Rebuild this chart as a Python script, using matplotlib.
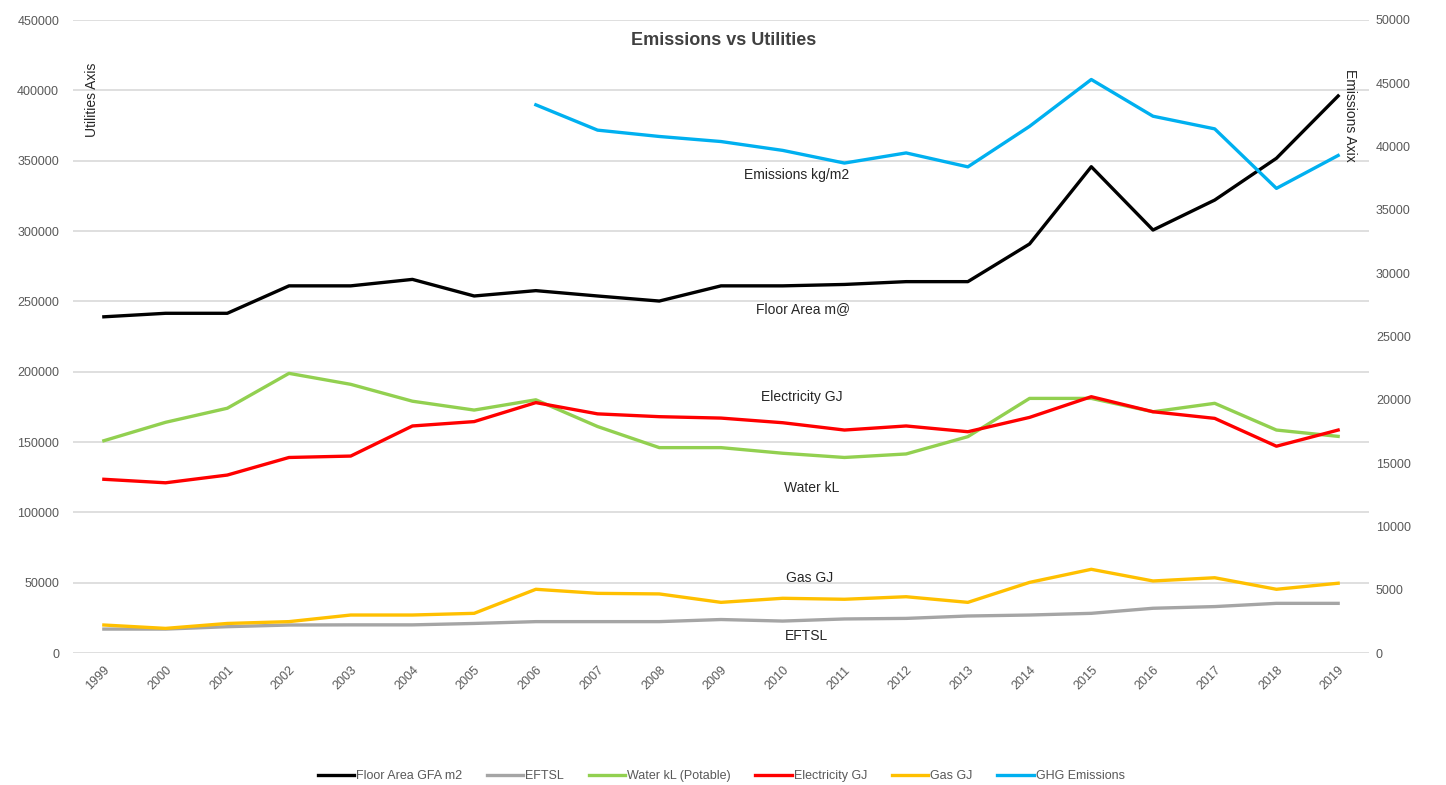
import numpy as np
import matplotlib
matplotlib.use("Agg")
import matplotlib.pyplot as plt

plt.rcParams['font.family'] = ['Liberation Sans', 'DejaVu Sans']

years = [str(y) for y in range(1999, 2020)]

floor_area = [239000, 241500, 241500, 261000, 261000, 265600, 253800, 257600, 253800, 250200,
              261000, 261000, 262000, 264000, 264000, 290800, 345700, 300700, 322000, 351700, 396000]
eftsl = [17000, 17000, 18700, 19900, 20000, 20000, 21000, 22300, 22300, 22300,
         23800, 22700, 24200, 24600, 26300, 27000, 28200, 31800, 33000, 35300, 35300]
water = [150900, 164000, 174000, 198800, 191000, 179000, 172700, 180000, 161000, 146000,
         146000, 142000, 139000, 141500, 153800, 181000, 181000, 171500, 177500, 158500, 154000]
electricity = [123500, 121000, 126500, 139000, 140000, 161400, 164500, 178000, 170000, 168000,
               167000, 163700, 158500, 161400, 157300, 167500, 182200, 171500, 166800, 147000, 158500]
gas = [19900, 17500, 21000, 22300, 27000, 27000, 28200, 45300, 42400, 42000,
       36000, 38900, 38200, 40000, 36000, 50200, 59500, 51200, 53500, 45300, 49600]
ghg = [np.nan] * 7 + [43300, 41300, 40800, 40400, 39700, 38700, 39500, 38400,
                      41600, 45300, 42400, 41400, 36700, 39300]

left_ticks = list(range(0, 450001, 50000))
right_ticks = list(range(0, 50001, 5000))

series_names = ["Floor Area GFA m2", "EFTSL", "Water kL (Potable)", "Electricity GJ", "Gas GJ", "GHG Emissions"]
colors = ["#000000", "#a5a5a5", "#92d050", "#ff0000", "#ffc000", "#00b0f0"]

fig = plt.figure(figsize=(14.46, 7.85), dpi=100)
ax = fig.add_axes([73/1446, 1-653/785, 1296/1446, 633/785])
ax2 = ax.twinx()

x = np.arange(len(years))
lw = 2.4
handles = []
for vals, name, col in zip([floor_area, eftsl, water, electricity, gas],
                           series_names[:5], colors[:5]):
    h, = ax.plot(x, vals, color=col, lw=lw, label=name)
    handles.append(h)
h, = ax2.plot(x, ghg, color=colors[5], lw=lw, label=series_names[5])
handles.append(h)

ax.set_xlim(-0.5, len(years) - 0.5)
ax.set_ylim(0, 450000)
ax2.set_ylim(0, 50000)
ax.set_yticks(left_ticks)
ax.set_yticklabels([str(t) for t in left_ticks])
ax2.set_yticks(right_ticks)
ax2.set_yticklabels([str(t) for t in right_ticks])
ax.set_xticks(x)
ax.set_xticklabels(years, rotation=45, ha='right', rotation_mode='anchor')

ax.grid(axis='y', color='#d9d9d9', lw=1.2)
ax.set_axisbelow(True)
for a in (ax, ax2):
    for s in a.spines.values():
        s.set_visible(False)
    a.tick_params(length=0, labelsize=9, colors='#595959')
ax.tick_params(axis='y', pad=10)
ax2.tick_params(axis='y', pad=5)
ax.tick_params(axis='x', pad=8)

tc = '#262626'
ax.text(0.502, 0.968, "Emissions vs Utilities", transform=ax.transAxes, ha='center', va='center',
        fontsize=13, fontweight='bold', color='#404040')
ax.text(0.0147, 0.874, "Utilities Axis", transform=ax.transAxes, ha='center', va='center',
        rotation=90, fontsize=10, color=tc)
ax.text(0.985, 0.850, "Emissions Axix", transform=ax.transAxes, ha='center', va='center',
        rotation=-90, fontsize=10, color=tc)
labels = [("Emissions kg/m2", 797, 175), ("Floor Area m@", 803, 309), ("Electricity GJ", 802, 397),
          ("Water kL", 812, 488), ("Gas GJ", 810, 578), ("EFTSL", 807, 636)]
for txt, px, py in labels:
    ax.text((px-73)/1296, (653-py)/633, txt, transform=ax.transAxes, ha='center', va='center',
            fontsize=10, color=tc)

fig.legend(handles=handles, labels=series_names, loc='center', bbox_to_anchor=(721/1446, 1-776/785),
           ncol=6, frameon=False, fontsize=9, handlelength=2.9, columnspacing=2.0, handletextpad=0.15,
           labelcolor='#595959')

fig.savefig("out.png", dpi=100)
